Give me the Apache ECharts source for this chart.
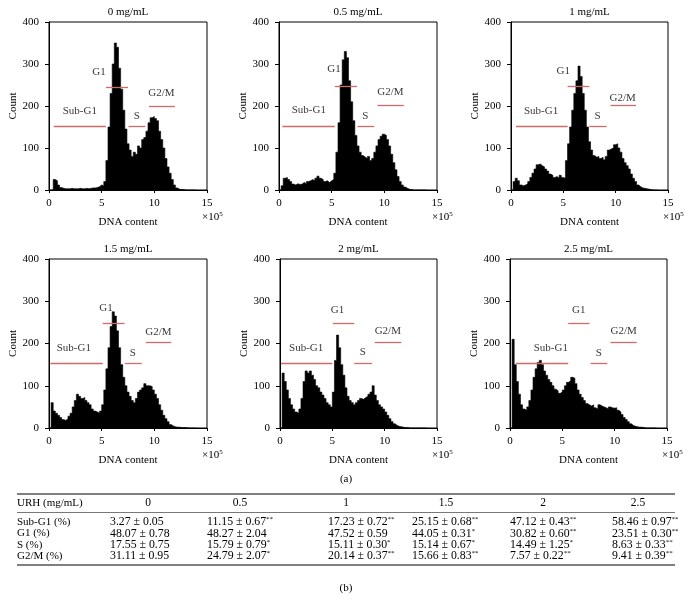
<!DOCTYPE html>
<html><head><meta charset="utf-8">
<script src="https://cdn.jsdelivr.net/npm/echarts@6/dist/echarts.min.js"></script>
<style>html,body{margin:0;padding:0;background:#fff}#c{width:692px;height:610px}</style>
</head><body><div id="c"></div>
<script>
// ---------- data ----------
const panelTitles = ['0 mg/mL', '0.5 mg/mL', '1 mg/mL', '1.5 mg/mL', '2 mg/mL', '2.5 mg/mL'];
const binWidth = 0.2; // ×10^5, bins start at 0
const counts0 = [0,0,25,22,12,6,4,3,3,3,4,3,3,3,4,3,3,4,3,4,5,5,6,8,12,10,20,70,150,230,300,350,340,290,240,190,145,110,95,80,90,85,105,100,120,125,140,160,172,175,170,165,140,120,100,75,55,40,25,12,5,2,1,1,0,0,0,0,0,0];
const counts05 = [0,10,28,30,25,20,14,12,15,13,14,18,15,20,22,25,22,28,33,28,25,20,22,18,22,25,40,90,160,250,310,330,315,260,210,165,130,105,90,82,78,75,80,70,75,90,105,120,128,133,130,120,105,85,65,48,32,20,12,7,4,2,1,0,0,0,0,0,0,0];
const counts1 = [0,20,28,22,12,10,12,15,20,30,40,50,60,62,58,55,50,45,38,35,30,32,28,35,30,28,70,110,150,190,230,260,295,270,230,190,150,115,95,82,78,80,75,78,72,80,95,98,100,108,110,100,90,75,65,58,50,38,28,20,12,8,5,4,3,2,1,0,0,0];
const counts15 = [0,60,40,35,30,25,20,18,22,28,35,50,65,80,75,70,72,65,60,55,45,40,38,35,40,55,90,140,190,240,275,265,230,190,150,120,100,85,75,65,60,70,85,90,95,105,100,100,98,90,80,70,55,42,30,22,15,8,5,3,2,2,1,1,1,0,0,0,0,0];
const counts2 = [0,130,110,90,70,55,45,38,35,45,70,110,135,130,135,125,115,100,95,85,78,70,60,55,50,85,160,220,190,150,125,95,75,65,60,55,60,65,70,68,72,75,80,85,100,78,65,55,50,45,38,30,22,15,10,6,4,3,2,1,1,0,0,0,0,0,0,0,0,0];
const counts25 = [0,210,150,110,80,55,45,42,50,65,90,120,140,155,160,150,135,125,115,108,100,92,88,82,85,90,100,108,112,120,118,105,90,80,72,65,58,55,52,55,48,45,55,52,50,48,45,50,48,47,48,42,38,32,25,20,15,10,6,4,3,2,2,1,0,0,0,0,0,0];
const allCounts = [counts0, counts05, counts1, counts15, counts2, counts25];

const xTicks = [0, 5, 10, 15];
const yTicks = [0, 100, 200, 300, 400];

// gates: [name, xStart, xEnd, count level]
const gateNames = ['Sub-G1', 'G1', 'S', 'G2/M'];
const gateStart = [[0.45,5.4,7.55,9.5],[0.32,5.3,7.45,9.35],[0.48,5.41,7.48,9.5],[0.13,5.1,7.2,9.2],[0.1,5.05,7.1,9.05],[0.57,5.56,7.7,9.6]];
const gateEnd   = [[5.4,7.5,9.15,11.95],[5.3,7.4,9.05,11.85],[5.41,7.48,9.14,11.94],[5.1,7.17,8.8,11.6],[5.0,7.1,8.8,11.6],[5.56,7.6,9.3,12.1]];
const gateLevel = [[151,245,151,200],[152,246,152,201],[152,246,152,201],[154,247,154,204],[154,247,154,204],[154,247,154,204]];
// gate label anchor (x, count)
const labelX = [[2.93,4.75,8.34,10.67],[2.83,5.22,8.2,10.57],[2.87,5.0,8.28,10.67],[2.36,5.41,7.96,10.38],[2.5,5.5,7.9,10.3],[3.9,6.57,8.48,10.86]];
const labelY = [[187,281,175,230],[190,287,177,232],[189,283,175,219],[188,283,178,228],[188,279,179,230],[188,279,178,230]];

// table
const doses = ['0', '0.5', '1', '1.5', '2', '2.5'];
const rowNames = ['Sub-G1 (%)', 'G1 (%)', 'S (%)', 'G2/M (%)'];
const subG1Mean = [3.27, 11.15, 17.23, 25.15, 47.12, 58.46];
const subG1SD   = [0.05, 0.67, 0.72, 0.68, 0.43, 0.97];
const subG1Sig  = ['', '**', '**', '**', '**', '**'];
const g1Mean = [48.07, 48.27, 47.52, 44.05, 30.82, 23.51];
const g1SD   = [0.78, 2.04, 0.59, 0.31, 0.60, 0.30];
const g1Sig  = ['', '', '', '*', '**', '**'];
const sMean = [17.55, 15.79, 15.11, 15.14, 14.49, 8.63];
const sSD   = [0.75, 0.79, 0.30, 0.67, 1.25, 0.33];
const sSig  = ['', '*', '*', '*', '*', '**'];
const g2mMean = [31.11, 24.79, 20.14, 15.66, 7.57, 9.41];
const g2mSD   = [0.95, 2.07, 0.37, 0.83, 0.22, 0.39];
const g2mSig  = ['', '*', '**', '**', '**', '**'];

// ---------- layout ----------
const FONT = '"Liberation Serif","DejaVu Serif",serif';
const grids = [
  {left:49, top:22, width:158, height:168},
  {left:279, top:22, width:158, height:168},
  {left:511, top:22, width:157, height:168},
  {left:49, top:259, width:158, height:169},
  {left:280, top:259, width:157, height:169},
  {left:510, top:259, width:157, height:169}
];
const RED = '#d26a6a';

const option = {
  animation:false,
  backgroundColor:'#fff',
  grid: grids.map(g => Object.assign({show:true, borderColor:'#000', borderWidth:1, containLabel:false}, g)),
  xAxis: grids.map((g,i) => ({
    type:'value', gridIndex:i, min:0, max:15, interval:5,
    name:'DNA content', nameLocation:'middle', nameGap:27,
    nameTextStyle:{fontFamily:FONT, fontSize:11, color:'#000'},
    axisLine:{show:true, onZero:false, lineStyle:{color:'#000', width:1}},
    axisTick:{show:true, length:3, lineStyle:{color:'#000'}},
    axisLabel:{fontFamily:FONT, fontSize:11, color:'#000', margin:8},
    splitLine:{show:false}
  })),
  yAxis: grids.map((g,i) => ({
    type:'value', gridIndex:i, min:0, max:400, interval:100,
    name:'Count', nameLocation:'middle', nameGap:30,
    nameTextStyle:{fontFamily:FONT, fontSize:11, color:'#000'},
    axisLine:{show:true, lineStyle:{color:'#000', width:1}},
    axisTick:{show:true, length:4, lineStyle:{color:'#000'}},
    axisLabel:{fontFamily:FONT, fontSize:11, color:'#000', margin:10},
    splitLine:{show:false}
  })),
  series: [],
  graphic: []
};

allCounts.forEach((cnt, i) => {
  const data = cnt.map((c, k) => [k * binWidth, c]);
  data.push([cnt.length * binWidth, 0]);
  option.series.push({
    type:'line', xAxisIndex:i, yAxisIndex:i, step:'end', showSymbol:false, symbol:'none',
    data, lineStyle:{color:'#000', width:0.6}, areaStyle:{color:'#000', opacity:1},
    markLine:{
      silent:true, symbol:'none', label:{show:false},
      lineStyle:{color:RED, width:1.3, type:'solid'},
      data: gateNames.map((n, j) => [
        {coord:[gateStart[i][j], gateLevel[i][j]]},
        {coord:[gateEnd[i][j], gateLevel[i][j]]}
      ])
    }
  });
  option.series.push({
    type:'scatter', xAxisIndex:i, yAxisIndex:i, symbolSize:0,
    data: gateNames.map((n, j) => ({value:[labelX[i][j], labelY[i][j]], name:n})),
    label:{show:true, position:'inside', formatter:p => p.name, fontFamily:FONT, fontSize:11, color:'#000'}
  });
  const g = grids[i];
  option.graphic.push({type:'text', x:g.left + g.width/2, y:g.top - 10,
    style:{text:panelTitles[i], font:'11px ' + FONT, fill:'#000', align:'center', verticalAlign:'middle'}});
  option.graphic.push({type:'text', x:g.left + g.width - 5, y:g.top + g.height + 27,
    style:{text:'{a|×10}{b|5}', font:'11px ' + FONT, fill:'#000', align:'left', verticalAlign:'middle',
      rich:{a:{fontFamily:FONT, fontSize:11, fill:'#000', verticalAlign:'bottom', lineHeight:12},
            b:{fontFamily:FONT, fontSize:7, fill:'#000', verticalAlign:'top', lineHeight:12}}}});
});

// captions
option.graphic.push({type:'text', x:346, y:479, style:{text:'(a)', font:'11px ' + FONT, fill:'#000', align:'center', verticalAlign:'middle'}});
option.graphic.push({type:'text', x:346, y:588, style:{text:'(b)', font:'11px ' + FONT, fill:'#000', align:'center', verticalAlign:'middle'}});

// table
const tL = 17, tR = 675;
option.graphic.push({type:'line', shape:{x1:tL, y1:494, x2:tR, y2:494}, style:{stroke:'#555', lineWidth:1.4}});
option.graphic.push({type:'line', shape:{x1:tL, y1:512.5, x2:tR, y2:512.5}, style:{stroke:'#555', lineWidth:0.8}});
option.graphic.push({type:'line', shape:{x1:tL, y1:565, x2:tR, y2:565}, style:{stroke:'#555', lineWidth:1.4}});
const headCenters = [148, 240, 346, 446, 543, 638];
const valLeft = [110, 207, 328, 412, 510, 612];
const rowY = [522, 533.5, 545, 556];
option.graphic.push({type:'text', x:tL, y:503, style:{text:'URH (mg/mL)', font:'11px ' + FONT, fill:'#000', align:'left', verticalAlign:'middle'}});
doses.forEach((d, k) => option.graphic.push({type:'text', x:headCenters[k], y:503,
  style:{text:d, font:'11.5px ' + FONT, fill:'#000', align:'center', verticalAlign:'middle'}}));
const rows = [[subG1Mean, subG1SD, subG1Sig], [g1Mean, g1SD, g1Sig], [sMean, sSD, sSig], [g2mMean, g2mSD, g2mSig]];
rows.forEach((r, ri) => {
  option.graphic.push({type:'text', x:tL, y:rowY[ri], style:{text:rowNames[ri], font:'11px ' + FONT, fill:'#000', align:'left', verticalAlign:'middle'}});
  r[0].forEach((m, k) => {
    const txt = '{n|' + m.toFixed(2) + ' ± ' + r[1][k].toFixed(2) + '}' + (r[2][k] ? '{s|' + r[2][k] + '}' : '');
    option.graphic.push({type:'text', x:valLeft[k], y:rowY[ri],
      style:{text:txt, align:'left', verticalAlign:'middle', fill:'#000', font:'11.8px ' + FONT,
        rich:{n:{fontFamily:FONT, fontSize:11.8, fill:'#000', lineHeight:12, verticalAlign:'bottom'},
              s:{fontFamily:FONT, fontSize:7, fill:'#000', lineHeight:12, verticalAlign:'top'}}}});
  });
});

const chart = echarts.init(document.getElementById('c'), null, {renderer:'canvas'});
chart.setOption(option);
</script></body></html>
